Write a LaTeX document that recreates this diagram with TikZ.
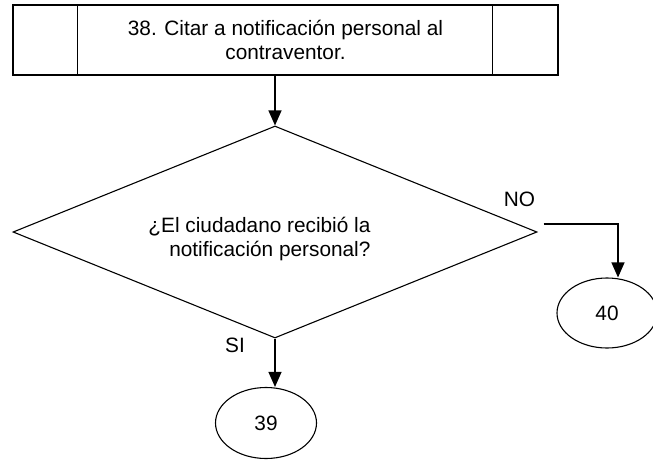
\documentclass[tikz,border=0pt]{standalone}
\usepackage{fontspec}
\setmainfont{Liberation Sans}
\usetikzlibrary{shapes.geometric, arrows.meta}

\begin{document}
\begin{tikzpicture}[x=1pt, y=-1pt, line width=1.1pt, >={Triangle[length=15pt,width=13pt]}, font=\fontsize{20.8}{23.5}\selectfont] % 像素坐标
            \useasboundingbox (0,0) rectangle (653,460);
            % 处理框
            \node[draw, minimum width=545pt, minimum height=70pt, align=center] (proc) at (285.5,40) {38. Citar a notificación personal al\\contraventor.};
            \draw ([xshift=65pt]proc.north west) -- ([xshift=65pt]proc.south west);
            \draw ([xshift=-66pt]proc.north east) -- ([xshift=-66pt]proc.south east);
            % 判断
            \node[draw, diamond, minimum width=524pt, minimum height=212pt, inner sep=0pt] (dia) at (275,232) {};
            \node[align=right, anchor=east, inner sep=0pt] (ask) at (371,239) {¿El ciudadano recibió la\\notificación personal?};
            \node[draw, ellipse, minimum width=101pt, minimum height=71pt] (c39) at (266,423) {39};
            \node[draw, ellipse, minimum width=100pt, minimum height=70pt] (c40) at (607,313) {40};
            \draw[->] (dia.north |- proc.south) -- (dia.north);
            \draw[->] (dia.south) -- (dia.south |- c39.north);
            \draw[->] ([xshift=6pt,yshift=8pt]dia.east) -| ([xshift=11pt]c40.north);
            \node (no) at (519.5,199) {NO};
            \node (si) at (235,345) {SI};
            \end{tikzpicture}
\end{document}
